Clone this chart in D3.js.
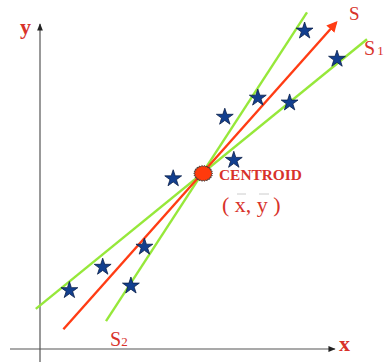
<!DOCTYPE html>
<html>
<head>
<meta charset="utf-8">
<script src="https://cdn.jsdelivr.net/npm/d3@7"></script>
<style>
  html, body { margin: 0; padding: 0; background: #fff; }
  svg { display: block; }
  text { font-family: "Liberation Serif", "Times New Roman", serif; }
</style>
</head>
<body>
<svg id="chart" width="384" height="362"></svg>
<script>
// Sample observations (x, y)
const pointsX = [9.8, 20.9, 30.3, 34.8, 44.4, 61.6, 64.6, 72.6, 83.2, 88.2, 99.0];
const pointsY = [18.4, 25.6, 19.8, 31.8, 52.9, 71.9, 58.6, 77.8, 76.3, 98.5, 89.8];

// Centroid (x̄, ȳ)
const centroid = [54.4, 54.2];

// Candidate lines through the centroid: [x0, y0, x1, y1]
const lineS  = [7.8, 6.1, 98.7, 100.7];
const lineS1 = [-1.4, 12.4, 109, 95.6];
const lineS2 = [22.0, 8.6, 89.0, 103.9];

// Axis extents
const xAxisExtent = [-10, 98.3];
const yAxisExtent = [-4, 100.3];

const svg = d3.select("#chart");
const x = d3.scaleLinear().domain([0, 100]).range([40, 340]);
const y = d3.scaleLinear().domain([0, 100]).range([349, 25]);

const red = "#d8322a";
const green = "#96e83a";
const orange = "#ff3c14";

// arrow markers
const defs = svg.append("defs");
defs.append("marker")
  .attr("id", "axisArrow").attr("viewBox", "0 0 10 10")
  .attr("refX", 9).attr("refY", 5)
  .attr("markerWidth", 6).attr("markerHeight", 6)
  .attr("orient", "auto")
  .append("path").attr("d", "M0,1 L10,5 L0,9 Z").attr("fill", "#222");
defs.append("marker")
  .attr("id", "sArrow").attr("viewBox", "0 0 10 10")
  .attr("refX", 8).attr("refY", 5)
  .attr("markerWidth", 4.5).attr("markerHeight", 4.5)
  .attr("orient", "auto")
  .append("path").attr("d", "M0,0 L10,5 L0,10 Z").attr("fill", orange);

// axes
svg.append("line")
  .attr("x1", x(xAxisExtent[0])).attr("y1", y(0))
  .attr("x2", x(xAxisExtent[1])).attr("y2", y(0))
  .attr("stroke", "#555").attr("stroke-width", 1.2)
  .attr("marker-end", "url(#axisArrow)");
svg.append("line")
  .attr("x1", x(0)).attr("y1", y(yAxisExtent[0]))
  .attr("x2", x(0)).attr("y2", y(yAxisExtent[1]))
  .attr("stroke", "#555").attr("stroke-width", 1.2)
  .attr("marker-end", "url(#axisArrow)");

svg.append("text").attr("x", 20).attr("y", 34)
  .attr("fill", red).attr("font-size", 22).attr("font-weight", "bold").text("y");
svg.append("text").attr("x", 339).attr("y", 351)
  .attr("fill", red).attr("font-size", 22).attr("font-weight", "bold").text("x");

// fitted lines
function drawLine(l, color, width, marker) {
  const ln = svg.append("line")
    .attr("x1", x(l[0])).attr("y1", y(l[1]))
    .attr("x2", x(l[2])).attr("y2", y(l[3]))
    .attr("stroke", color).attr("stroke-width", width)
    .attr("stroke-linecap", "butt");
  if (marker) ln.attr("marker-end", marker);
}
drawLine(lineS1, green, 2.4);
drawLine(lineS2, green, 2.4);
drawLine(lineS, orange, 2.4, "url(#sArrow)");

// stars
const star = d3.symbol().type(d3.symbolStar).size(88);
svg.append("g").selectAll("path")
  .data(pointsX.map((v, i) => [v, pointsY[i]]))
  .join("path")
  .attr("transform", d => `translate(${x(d[0])},${y(d[1]) + 1})`)
  .attr("d", star)
  .attr("fill", "#123f8f")
  .attr("stroke", "#0a1f4a")
  .attr("stroke-width", 0.8);

// centroid marker: jagged ellipse
const nSpikes = 22;
const burst = d3.range(nSpikes * 2).map(i => {
  const a = (i / (nSpikes * 2)) * 2 * Math.PI;
  const r = i % 2 === 0 ? 1 : 0.86;
  return [Math.cos(a) * 9.5 * r, Math.sin(a) * 8 * r];
});
svg.append("path")
  .attr("transform", `translate(${x(centroid[0])},${y(centroid[1])})`)
  .attr("d", d3.line().curve(d3.curveLinearClosed)(burst))
  .attr("fill", "#ff3a0c")
  .attr("stroke", "#333").attr("stroke-width", 0.8);

// labels
svg.append("text").attr("x", 219).attr("y", 180)
  .attr("fill", red).attr("font-size", 15.4).attr("font-weight", "bold")
  .text("CENTROID");

const cl = svg.append("text").attr("x", 222).attr("y", 212)
  .attr("fill", red).attr("font-size", 22);
cl.append("tspan").text("( ");
cl.append("tspan").text("x");
cl.append("tspan").text(", ");
cl.append("tspan").text("y");
cl.append("tspan").text(" )");
// overbars for the mean symbols
svg.append("line").attr("x1", 237).attr("x2", 246).attr("y1", 194).attr("y2", 194)
  .attr("stroke", "#ccc").attr("stroke-width", 1);
svg.append("line").attr("x1", 259).attr("x2", 269).attr("y1", 194).attr("y2", 194)
  .attr("stroke", "#ccc").attr("stroke-width", 1);

svg.append("text").attr("x", 349).attr("y", 20)
  .attr("fill", red).attr("font-size", 19).text("S");

const s1 = svg.append("text").attr("x", 364).attr("y", 55).attr("fill", red);
s1.append("tspan").attr("font-size", 20).text("S");
s1.append("tspan").attr("font-size", 13).attr("dx", 2).text("1");

const s2 = svg.append("text").attr("x", 110).attr("y", 346).attr("fill", red);
s2.append("tspan").attr("font-size", 20).text("S");
s2.append("tspan").attr("font-size", 13).text("2");
</script>
</body>
</html>
